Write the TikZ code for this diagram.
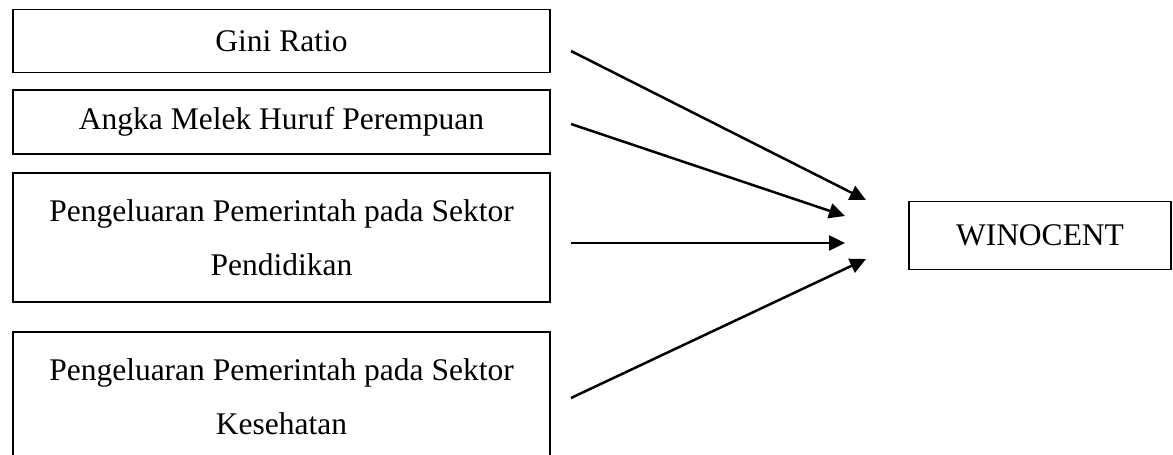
\documentclass[tikz,border=0pt]{standalone}
\usepackage{fontspec}
\setmainfont{Liberation Serif}
\usetikzlibrary{arrows.meta}
\begin{document}
\begin{tikzpicture}[x=1pt,y=-1pt,
  varbox/.style={draw=black,line width=1.9pt,minimum width=537pt,inner sep=0pt,
    align=center,font=\fontsize{31.5}{54}\selectfont},
  resbox/.style={draw=black,line width=1.9pt,minimum width=262pt,minimum height=68pt,
    inner sep=0pt,font=\fontsize{31.5}{38}\selectfont},
  arr/.style={line width=2.5pt,-{Triangle[length=16pt,width=15pt]}}]
\useasboundingbox (0,0) rectangle (1173,455);
% independent variables
\node[varbox,minimum height=63pt] (gini) at (281.5,41) {Gini Ratio};
\node[varbox,minimum height=64pt] (amh) at (281.5,122) {Angka Melek Huruf Perempuan};
\node[varbox,minimum height=129pt] (edu) at (281.5,237.5) {Pengeluaran Pemerintah pada Sektor\\Pendidikan};
\node[varbox,minimum height=129pt] (hea) at (281.5,396.5) {Pengeluaran Pemerintah pada Sektor\\Kesehatan};
% dependent variable
\node[resbox] (win) at (1040,235.5) {WINOCENT};
% arrow ends
\coordinate (s1) at (571,51);
\coordinate (s2) at (571,124);
\coordinate (s3) at (571,243);
\coordinate (s4) at (571,398);
\coordinate (t1) at (866,200);
\coordinate (t2) at (845,216);
\coordinate (t3) at (845,243);
\coordinate (t4) at (866,259);
\draw[arr] (s1) -- (t1);
\draw[arr] (s2) -- (t2);
\draw[arr] (s3) -- (t3);
\draw[arr] (s4) -- (t4);
\end{tikzpicture}
\end{document}
